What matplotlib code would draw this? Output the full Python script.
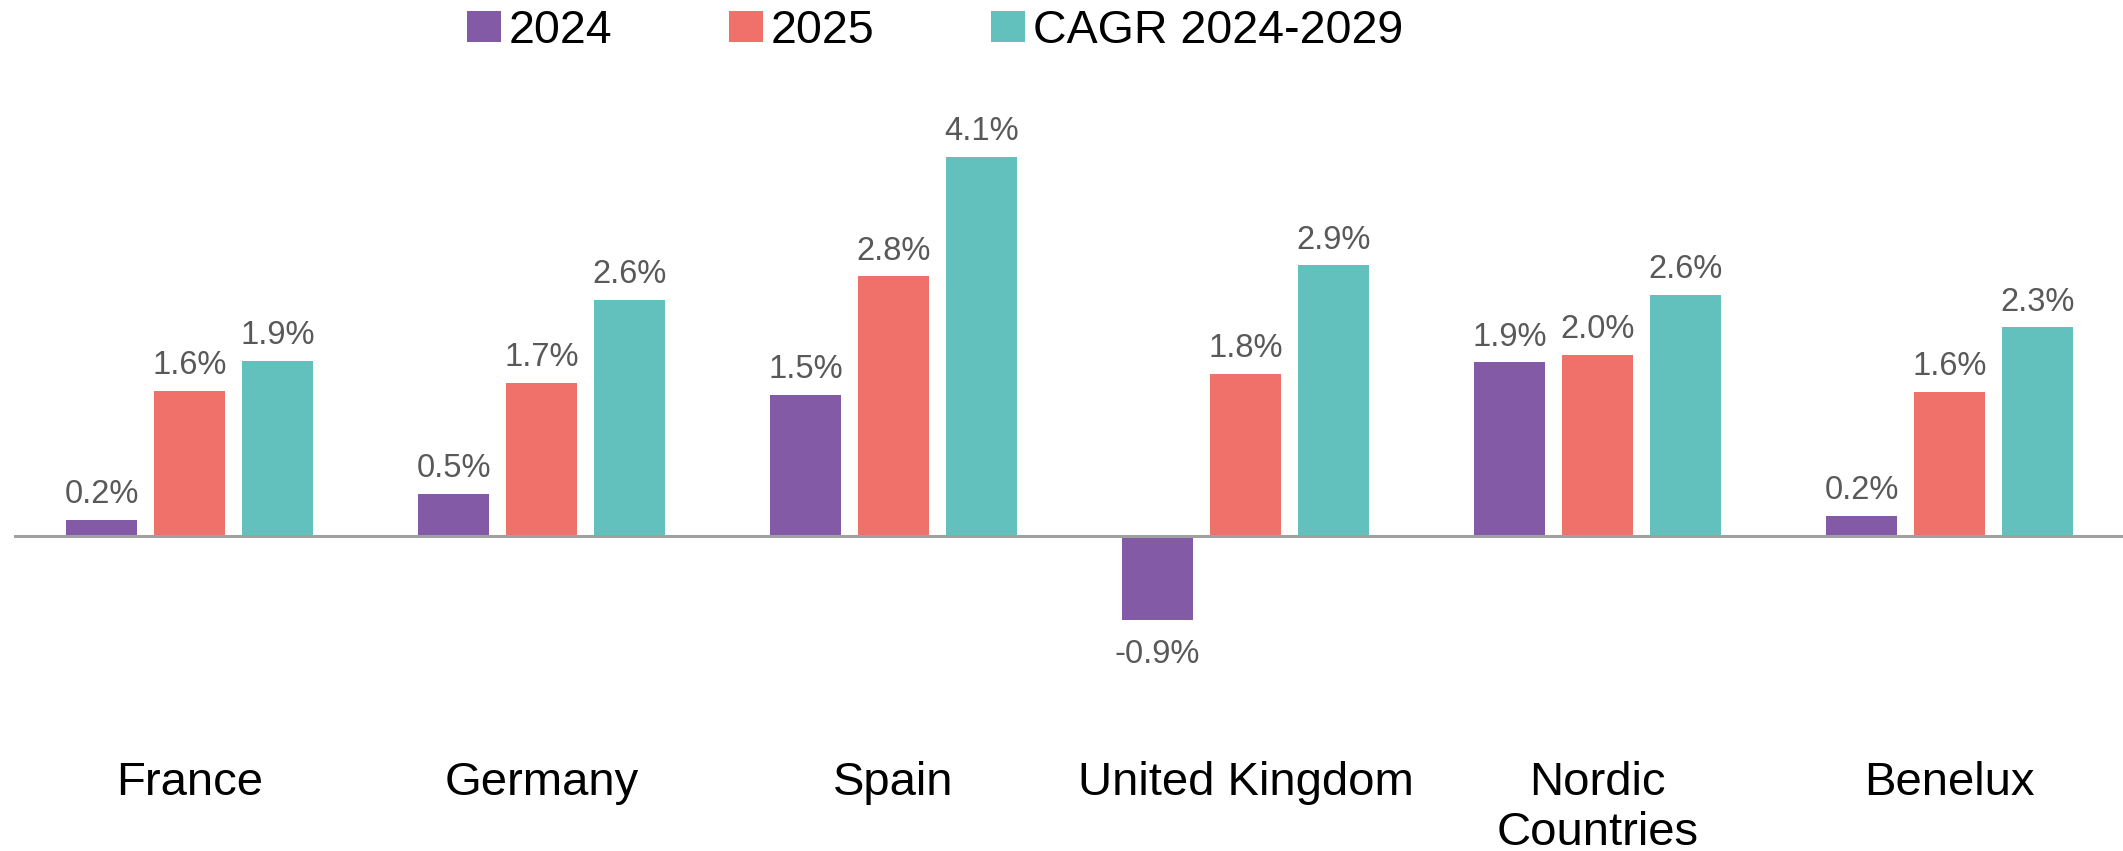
import numpy as np
import matplotlib
matplotlib.use("Agg")
import matplotlib.pyplot as plt

# data (bar heights in %, labels rounded to 1 dp)
countries = ["France", "Germany", "Spain", "United Kingdom", "Nordic\nCountries", "Benelux"]
series_names = ["2024", "2025", "CAGR 2024-2029"]
growth_2024 = [0.18, 0.46, 1.53, -0.90, 1.88, 0.22]
growth_2025 = [1.57, 1.66, 2.81, 1.76, 1.96, 1.56]
cagr_24_29 = [1.90, 2.56, 4.10, 2.93, 2.61, 2.26]

colors = ["#825AA6", "#F0716A", "#62C1BC"]

plt.rcParams["font.family"] = ["Liberation Sans", "DejaVu Sans"]

fig = plt.figure(figsize=(21.23, 8.51), dpi=100)
W, H = 2123, 851
ax = fig.add_axes([13.5 / W, 111 / H, 2112 / W, 669 / H])

x = np.arange(len(countries))
bar_w = 0.2
step = 0.25

for i, (vals, name) in enumerate(zip([growth_2024, growth_2025, cagr_24_29], series_names)):
    bars = ax.bar(x + (i - 1) * step, vals, width=bar_w, color=colors[i], label=name, zorder=2)
    for rect, v in zip(bars, vals):
        cx = rect.get_x() + rect.get_width() / 2
        if v >= 0:
            ax.annotate(f"{v:.1f}%", (cx, v), xytext=(0, 7), textcoords="offset points",
                        ha="center", va="bottom", fontsize=23.5, color="#595959")
        else:
            ax.annotate(f"{v:.1f}%", (cx, v), xytext=(0, -14), textcoords="offset points",
                        ha="center", va="top", fontsize=23.5, color="#595959")

ax.axhline(0, color="#A0A0A0", lw=2.2, zorder=3)

ax.set_xlim(-0.5, len(countries) - 0.5)
ax.set_ylim(-2.2, 5.03)
ax.set_xticks(x)
ax.set_xticklabels(countries, fontsize=34, linespacing=1.17)
ax.tick_params(axis="x", length=0, pad=15)
ax.set_yticks([])
for s in ax.spines.values():
    s.set_visible(False)

fig.legend(loc="upper left", bbox_to_anchor=(467 / W, 0.99), ncol=3, frameon=False,
           fontsize=33.5, handlelength=0.73, handleheight=0.65, handletextpad=0.17,
           columnspacing=2.5, borderpad=0, borderaxespad=0)

fig.savefig("out.png", dpi=100, facecolor="white")
